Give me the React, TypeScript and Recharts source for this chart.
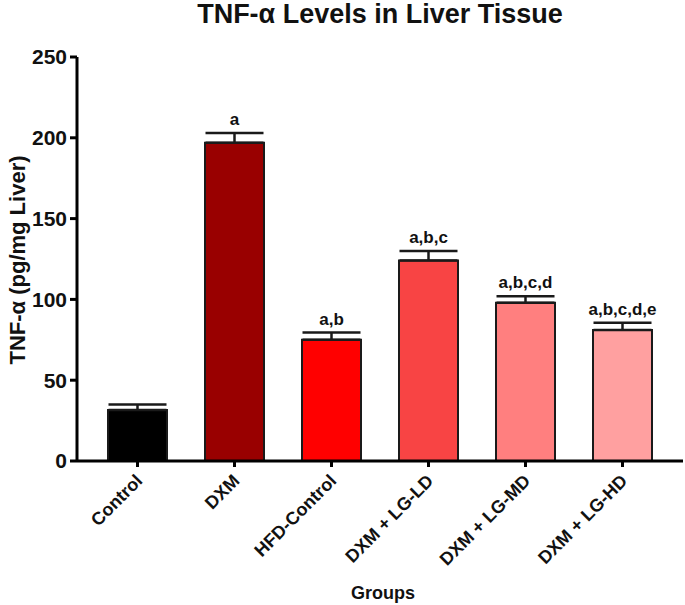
import React from 'react';
import { BarChart, Bar, XAxis, YAxis, Cell, ErrorBar, LabelList } from 'recharts';

const groups = ['Control', 'DXM', 'HFD-Control', 'DXM + LG-LD', 'DXM + LG-MD', 'DXM + LG-HD'];
const means = [31.5, 197, 75, 124, 98, 81];
const sems = [3.5, 6, 4.5, 6, 4, 4.5];
const letters = ['', 'a', 'a,b', 'a,b,c', 'a,b,c,d', 'a,b,c,d,e'];
const barColors = ['#000000', '#990000', '#ff0000', '#f84444', '#ff7f7f', '#ffa0a0'];
const yTicks = [0, 50, 100, 150, 200, 250];

const FONT = '"Liberation Sans", Arial, sans-serif';

const data = groups.map((g, i) => ({
  group: g,
  mean: means[i],
  err: [0, sems[i]],
  letter: letters[i],
}));

const GroupTick = ({ x, y, payload }: any) => (
  <text
    x={x + 6}
    y={y + 13}
    transform={`rotate(-45, ${x + 6}, ${y + 13})`}
    textAnchor="end"
    fontFamily={FONT}
    fontWeight="bold"
    fontSize={18}
    fill="#111"
  >
    {payload.value}
  </text>
);

const SigLabel = (props: any) => {
  const { x, y, width, height, value, index } = props;
  if (!value) return null;
  const capY = y - (sems[index] * height) / means[index];
  return (
    <text
      x={x + width / 2}
      y={capY - 8}
      textAnchor="middle"
      fontFamily={FONT}
      fontWeight="bold"
      fontSize={17}
      fill="#111"
    >
      {value}
    </text>
  );
};

export default function App() {
  return (
    <div style={{ position: 'absolute', left: 0, top: 0, width: 685, height: 605, background: '#fff' }}>
      <BarChart
        width={685}
        height={605}
        data={data}
        margin={{ top: 57, right: 2, left: 17, bottom: 0 }}
      >
        <XAxis
          dataKey="group"
          height={144}
          padding={{ left: 12, right: 12 }}
          axisLine={{ stroke: '#000', strokeWidth: 3 }}
          tickLine={{ stroke: '#000', strokeWidth: 3 }}
          tickSize={6}
          tick={<GroupTick />}
          interval={0}
        />
        <YAxis
          width={60}
          domain={[0, 250]}
          ticks={yTicks}
          axisLine={{ stroke: '#000', strokeWidth: 3 }}
          tickLine={{ stroke: '#000', strokeWidth: 3 }}
          tickSize={7}
          tickMargin={3}
          tick={{ fontFamily: FONT, fontWeight: 'bold', fontSize: 21, fill: '#111' }}
        />
        <Bar dataKey="mean" barSize={59} stroke="#1a1a1a" strokeWidth={2} isAnimationActive={false}>
          {data.map((d, i) => (
            <Cell key={d.group} fill={barColors[i]} />
          ))}
          <ErrorBar dataKey="err" width={29} strokeWidth={2.5} stroke="#1a1a1a" direction="y" />
          <LabelList dataKey="letter" content={<SigLabel />} />
        </Bar>
      </BarChart>
      <svg
        width={685}
        height={605}
        style={{ position: 'absolute', left: 0, top: 0, pointerEvents: 'none' }}
      >
        <text x={380} y={23} textAnchor="middle" fontFamily={FONT} fontWeight="bold" fontSize={27} fill="#111">
          TNF-α Levels in Liver Tissue
        </text>
        <text
          x={25}
          y={260}
          transform="rotate(-90, 25, 260)"
          textAnchor="middle"
          fontFamily={FONT}
          fontWeight="bold"
          fontSize={22}
          fill="#111"
        >
          TNF-α (pg/mg Liver)
        </text>
        <text x={383} y={599} textAnchor="middle" fontFamily={FONT} fontWeight="bold" fontSize={18} fill="#111">
          Groups
        </text>
      </svg>
    </div>
  );
}
